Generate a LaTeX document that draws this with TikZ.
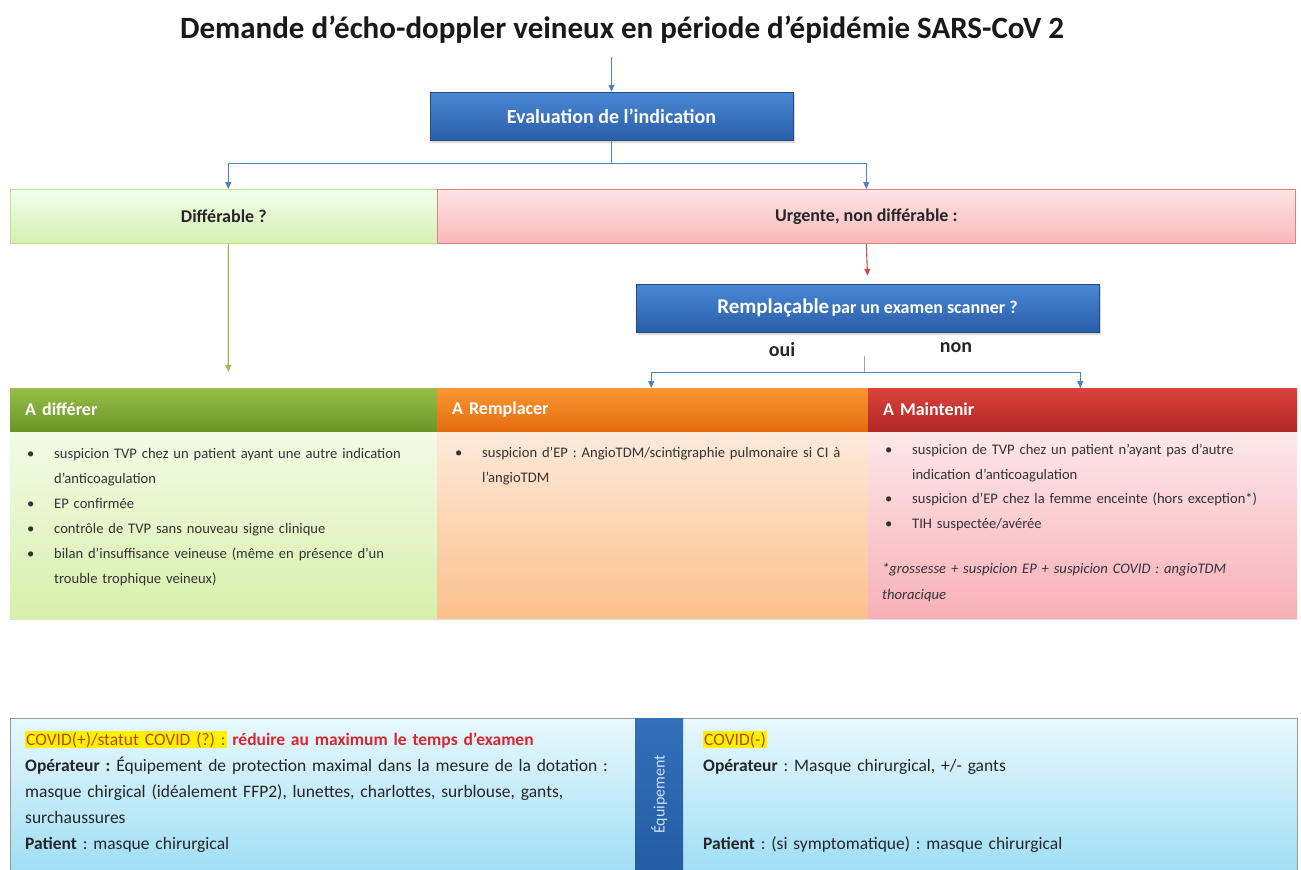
\documentclass[tikz,border=0pt]{standalone}
\usepackage{fontspec}
\setmainfont{Carlito}
\usetikzlibrary{arrows.meta,shadows}

\definecolor{lineblue}{HTML}{4F81BD}
\definecolor{linegreen}{HTML}{9BBB59}
\definecolor{linered}{HTML}{C0504D}
\definecolor{boxtop}{HTML}{4A88D4}
\definecolor{boxbot}{HTML}{2A5DA8}
\definecolor{txt}{HTML}{333333}
\definecolor{covidtxt}{HTML}{B8480F}
\definecolor{redtxt}{HTML}{D9262E}

\frenchspacing
% list item with hanging indent
\newcommand\bitem[1]{\par\noindent\hangindent=27pt\hangafter=1\makebox[27pt][l]{\textbullet}#1\par}

\tikzset{
  conn/.style={draw=lineblue, line width=1.1pt, -{Triangle[length=7pt,width=6pt]}},
  conngreen/.style={conn, draw=linegreen},
  connred/.style={conn, draw=linered},
  bluebox/.style={rectangle, top color=boxtop, bottom color=boxbot, draw=boxbot!80!black,
    line width=0.4pt, text=white, font=\bfseries\fontsize{20}{24}\selectfont,
    drop shadow={opacity=0.3, shadow xshift=1.5pt, shadow yshift=-2.5pt}},
  rowbox/.style={rectangle, anchor=north west, minimum height=54pt, line width=0.6pt,
    font=\bfseries\fontsize{18}{21}\selectfont, text=black!85},
  hdr/.style={rectangle, anchor=north west, minimum height=43pt, minimum width=#1,
    text width=#1-30pt, inner xsep=15pt, align=left, text=white,
    font=\bfseries\fontsize{18}{21}\selectfont},
  body/.style={rectangle, anchor=north west, minimum height=187pt, minimum width=#1,
    drop shadow={opacity=0.25, shadow xshift=0pt, shadow yshift=-2pt}},
  bodytxt/.style={anchor=north west, inner sep=0pt, align=left, text=txt,
    font=\fontsize{14.6}{25}\selectfont},
  bottxt/.style={anchor=north west, inner sep=0pt, align=left, text=black!85,
    font=\fontsize{17.5}{26}\selectfont},
  lbl/.style={font=\bfseries\fontsize{20}{24}\selectfont, text=black!85},
}

\begin{document}
\begin{tikzpicture}[x=1pt,y=-1pt]
\useasboundingbox (0,0) rectangle (1301,870);
\fill[white] (0,0) rectangle (1301,870);

% title
\node[font=\bfseries\fontsize{31}{36}\selectfont, text=black!90] (title) at (622,30)
  {Demande d’écho-doppler veineux en période d’épidémie SARS-CoV 2};

% first decision
\node[bluebox, minimum width=363pt, minimum height=48pt] (eval) at (611.5,116)
  {Evaluation de l’indication};

% second row
\node[rowbox, minimum width=427pt, top color=green!6!white, bottom color={rgb,255:red,214;green,240;blue,176},
  draw={rgb,255:red,190;green,225;blue,150}] (diff) at (10,189) {Différable ?};
\node[rowbox, minimum width=858pt, top color={rgb,255:red,253;green,228;blue,228},
  bottom color={rgb,255:red,248;green,184;blue,186},
  draw={rgb,255:red,225;green,130;blue,130}] (urg) at (437,189) {Urgente, non différable :};

% scanner question
\node[bluebox, minimum width=463pt, minimum height=48pt, font=\bfseries] (rep) at (867.5,308)
  {{\fontsize{21}{25}\selectfont Remplaçable} {\fontsize{18}{22}\selectfont par un examen scanner ?}};
\node[lbl] (oui) at (782,350) {oui};
\node[lbl] (non) at (956,348) {non};

% bodies of the three columns
\node[body=427pt, top color={rgb,255:red,244;green,251;blue,230}, bottom color={rgb,255:red,214;green,240;blue,172}] (bdiff) at (10,431) {};
\node[body=431pt, top color={rgb,255:red,253;green,234;blue,218}, bottom color={rgb,255:red,251;green,192;blue,140}] (brep) at (437,431) {};
\node[body=429pt, top color={rgb,255:red,253;green,232;blue,232}, bottom color={rgb,255:red,248;green,176;blue,184}] (bmain) at (868,431) {};

% column headers
\node[hdr=427pt, top color={rgb,255:red,150;green,190;blue,72}, bottom color={rgb,255:red,106;green,150;blue,40}] (hdiff) at (10,388) {A différer};
\node[hdr=431pt, top color={rgb,255:red,250;green,150;blue,50}, bottom color={rgb,255:red,228;green,108;blue,16}] (hrep) at (437,388) {A Remplacer};
\node[hdr=429pt, top color={rgb,255:red,220;green,66;blue,60}, bottom color={rgb,255:red,176;green,40;blue,38}] (hmain) at (868,388) {A Maintenir};

% column texts
\node[bodytxt, text width=405pt] (tdiff) at (27,433) {%
  \bitem{suspicion TVP chez un patient ayant une autre indication\newline d’anticoagulation}
  \bitem{EP confirmée}
  \bitem{contrôle de TVP sans nouveau signe clinique}
  \bitem{bilan d’insuffisance veineuse (même en présence d’un\newline trouble trophique veineux)}};
\node[bodytxt, text width=408pt] (trep) at (455,432) {%
  \bitem{suspicion d’EP : AngioTDM/scintigraphie pulmonaire si CI à\newline l’angioTDM}};
\node[bodytxt, text width=408pt, font=\fontsize{14.6}{24.5}\selectfont] (tmain) at (885,430) {%
  \bitem{suspicion de TVP chez un patient n’ayant pas d’autre\newline indication d’anticoagulation}
  \bitem{suspicion d’EP chez la femme enceinte (hors exception*)}
  \bitem{TIH suspectée/avérée}};
\node[bodytxt, text width=410pt, font=\itshape\fontsize{14.6}{26}\selectfont] (tnote) at (882,563) {%
  *grossesse + suspicion EP + suspicion COVID : angioTDM\\thoracique};

% equipment panel
\node[rectangle, anchor=north west, minimum width=1287pt, minimum height=152pt,
  top color={rgb,255:red,232;green,248;blue,253}, bottom color={rgb,255:red,160;green,222;blue,245},
  draw=black!40, line width=0.6pt] (equip) at (10,718) {};
\node[rectangle, anchor=north west, minimum width=48pt, minimum height=152pt,
  top color={rgb,255:red,50;green,112;blue,185}, bottom color={rgb,255:red,36;green,92;blue,165}] (strip) at (635,718) {};
\node[rotate=90, text={rgb,255:red,200;green,225;blue,250}, font=\fontsize{16}{18}\selectfont] (stripl) at (strip.center) {Équipement};

\node[bottxt, text width=600pt] (pos) at (25,731) {%
  {\setlength\fboxsep{1pt}\colorbox{yellow}{\textcolor{covidtxt}{COVID(+)/statut COVID (?) :}}}
  \textcolor{redtxt}{\bfseries réduire au maximum le temps d’examen}\\
  \textbf{Opérateur :} Équipement de protection maximal dans la mesure de la dotation :\\
  masque chirgical (idéalement FFP2), lunettes, charlottes, surblouse, gants,\\
  surchaussures\\
  \textbf{Patient} : masque chirurgical};
\node[bottxt, text width=580pt] (neg) at (703,731) {%
  {\setlength\fboxsep{1pt}\colorbox{yellow}{\textcolor{covidtxt}{COVID(-)}}}\\
  \textbf{Opérateur} : Masque chirurgical, +/- gants\\
  \mbox{}\\
  \mbox{}\\
  \textbf{Patient} : (si symptomatique) : masque chirurgical};

% connectors
\draw[conn] ([yshift=-10pt]title.south -| eval.north) -- (eval.north);
\draw[conn] (eval.south) -- ++(0,23) coordinate (split) -| ([xshift=4.5pt]diff.north);
\draw[conn] (split) -| (urg.north);
\draw[conngreen] ([xshift=4.5pt]diff.south) -- ([xshift=4.5pt,yshift=16pt]hdiff.north);
\draw[connred] (urg.south) -- ([yshift=8pt]rep.north);
\draw[draw=black!35, line width=0.8pt] ([yshift=-24pt, xshift=-3pt]rep.south) -- ++(0,16) coordinate (split2);
\draw[conn] (split2) -| ([xshift=-1.5pt]hrep.north);
\draw[conn] (split2) -| ([xshift=-2.5pt]hmain.north);
\end{tikzpicture}
\end{document}
